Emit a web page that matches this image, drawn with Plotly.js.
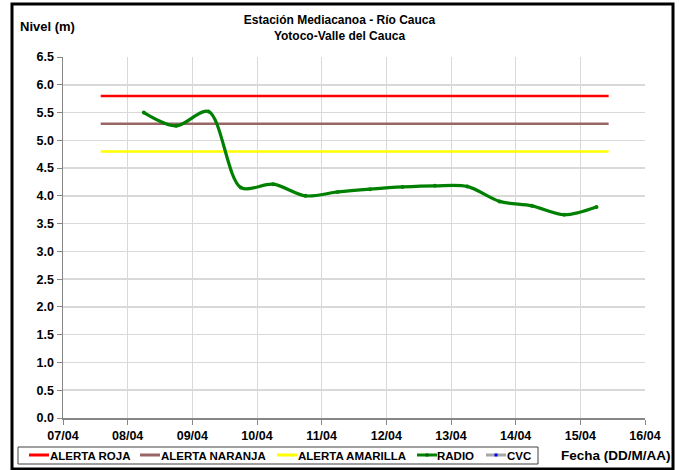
<!DOCTYPE html>
<html>
<head>
<meta charset="utf-8">
<script src="https://cdn.plot.ly/plotly-3.0.1.min.js"></script>
<style>
html,body{margin:0;padding:0;background:#fff;}
#chart{width:679px;height:470px;}
</style>
</head>
<body>
<div id="chart"></div>
<script>
// Alert thresholds (m)
const alertSpan = ['2011-04-07 14:00', '2011-04-15 10:30'];
const alertRoja = [5.8, 5.8];
const alertNaranja = [5.3, 5.3];
const alertAmarilla = [4.8, 4.8];

// RADIO readings
const radioDates = [
  '2011-04-08 06:00', '2011-04-08 18:00',
  '2011-04-09 06:00', '2011-04-09 18:00',
  '2011-04-10 06:00', '2011-04-10 18:00',
  '2011-04-11 06:00', '2011-04-11 18:00',
  '2011-04-12 06:00', '2011-04-12 18:00',
  '2011-04-13 06:00', '2011-04-13 18:00',
  '2011-04-14 06:00', '2011-04-14 18:00',
  '2011-04-15 06:00'
];
const radioLevels = [5.5, 5.26, 5.52, 4.15, 4.21, 4.0, 4.07, 4.12, 4.16, 4.18, 4.17, 3.9, 3.82, 3.66, 3.8];

// CVC readings (none shown)
const cvcDates = [];
const cvcLevels = [];

const tickLabels = ['07/04','08/04','09/04','10/04','11/04','12/04','13/04','14/04','15/04','16/04'];
const tickDates = ['2011-04-07','2011-04-08','2011-04-09','2011-04-10','2011-04-11','2011-04-12','2011-04-13','2011-04-14','2011-04-15','2011-04-16'];

const seriesNames = ['ALERTA ROJA', 'ALERTA NARANJA', 'ALERTA AMARILLA', 'RADIO', 'CVC'];
const seriesColors = ['#ff0000', '#996666', '#ffff00', '#008000', '#a6a6a6'];

const F = 'Liberation Sans, Arial, sans-serif';

// plot area in pixels
const PL = 63, PR = 645, PT = 57, PB = 418;
const px = v => (v - PL) / (PR - PL);
const py = v => (PB - v) / (PB - PT);

const traces = [
  {x: alertSpan, y: alertRoja, name: seriesNames[0], mode: 'lines', line: {color: seriesColors[0], width: 2.5}},
  {x: alertSpan, y: alertNaranja, name: seriesNames[1], mode: 'lines', line: {color: seriesColors[1], width: 2.5}},
  {x: alertSpan, y: alertAmarilla, name: seriesNames[2], mode: 'lines', line: {color: seriesColors[2], width: 2.5}},
  {x: radioDates, y: radioLevels, name: seriesNames[3], mode: 'lines+markers',
   line: {color: seriesColors[3], width: 3.2, shape: 'spline', smoothing: 0.9},
   marker: {color: seriesColors[3], size: 4, symbol: 'circle'}},
  {x: cvcDates, y: cvcLevels, name: seriesNames[4], mode: 'lines+markers',
   line: {color: seriesColors[4], width: 2}, marker: {color: '#0000ff', size: 4, symbol: 'square'}}
];

// Legend drawn as layout decoration (box, sample lines, labels)
const legendY = 455;
const legendItems = [
  {l0: 29, l1: 49, t: 50},
  {l0: 140, l1: 160, t: 161},
  {l0: 277, l1: 297, t: 298},
  {l0: 417, l1: 437, t: 437},
  {l0: 486, l1: 506, t: 507}
];
const legendShapes = [
  {type: 'rect', xref: 'paper', yref: 'paper', x0: px(18), x1: px(538), y0: py(464), y1: py(447),
   line: {color: '#404040', width: 1}, fillcolor: '#ffffff', layer: 'above'}
];
const legendAnn = [];
legendItems.forEach((it, i) => {
  legendShapes.push({type: 'line', xref: 'paper', yref: 'paper', x0: px(it.l0), x1: px(it.l1),
    y0: py(legendY), y1: py(legendY), line: {color: seriesColors[i], width: 3}, layer: 'above'});
  legendAnn.push({text: seriesNames[i], xref: 'paper', yref: 'paper', x: px(it.t), y: py(legendY + 0.5),
    xanchor: 'left', yanchor: 'middle', showarrow: false, xshift: -2,
    font: {family: F, size: 11.5, weight: 'bold', color: '#000'}});
});
// markers on RADIO and CVC legend samples
const mk = (cx, color) => ({type: 'rect', xref: 'paper', yref: 'paper',
  x0: px(cx - 1.5), x1: px(cx + 1.5), y0: py(legendY + 1.5), y1: py(legendY - 1.5),
  line: {width: 0}, fillcolor: color, layer: 'above'});
legendShapes.push(mk(427, '#006400'));
legendShapes.push(mk(496, '#0000ff'));

const layout = {
  width: 679, height: 470,
  margin: {l: PL, r: 679 - PR, t: PT, b: 470 - PB, autoexpand: false},
  paper_bgcolor: '#ffffff', plot_bgcolor: '#ffffff',
  font: {family: F, size: 12, color: '#000'},
  title: {
    text: 'Estación Mediacanoa - Río Cauca<br>Yotoco-Valle del Cauca',
    font: {family: F, size: 12, color: '#000', weight: 'bold'},
    x: 0.5, xref: 'container', xanchor: 'center',
    y: 1 - 24/470, yref: 'container', yanchor: 'middle'
  },
  xaxis: {
    type: 'date',
    range: ['2011-04-07', '2011-04-16'],
    tickmode: 'array', tickvals: tickDates, ticktext: tickLabels,
    tickfont: {family: F, size: 12.5, weight: 'bold'},
    showgrid: true, gridcolor: '#d9d9d9', gridwidth: 1,
    showline: true, linecolor: '#868686', linewidth: 1.5,
    ticks: 'outside', ticklen: 5, tickcolor: '#868686',
    zeroline: false, fixedrange: true
  },
  yaxis: {
    range: [0, 6.5], dtick: 0.5, tick0: 0, tickformat: '.1f',
    tickfont: {family: F, size: 12.5, weight: 'bold'},
    showgrid: true, gridcolor: '#d9d9d9', gridwidth: 1.5,
    showline: true, linecolor: '#868686', linewidth: 1.5,
    ticks: 'outside', ticklen: 5, tickcolor: '#868686',
    zeroline: false, fixedrange: true
  },
  showlegend: false,
  annotations: [
    {text: 'Nivel (m)', xref: 'paper', yref: 'paper', x: px(47), y: py(27),
     xanchor: 'center', yanchor: 'middle', showarrow: false,
     font: {family: F, size: 13, weight: 'bold'}},
    {text: 'Fecha (DD/M/AA)', xref: 'paper', yref: 'paper', x: px(616), y: py(456),
     xanchor: 'center', yanchor: 'middle', showarrow: false,
     font: {family: F, size: 13.5, weight: 'bold'}}
  ].concat(legendAnn),
  shapes: [
    {type: 'rect', xref: 'paper', yref: 'paper',
     x0: px(12), x1: px(673), y0: py(469), y1: py(4),
     line: {color: '#000', width: 3}, fillcolor: 'rgba(0,0,0,0)', layer: 'above'}
  ].concat(legendShapes)
};

Plotly.newPlot('chart', traces, layout, {displayModeBar: false, staticPlot: true});
</script>
</body>
</html>
